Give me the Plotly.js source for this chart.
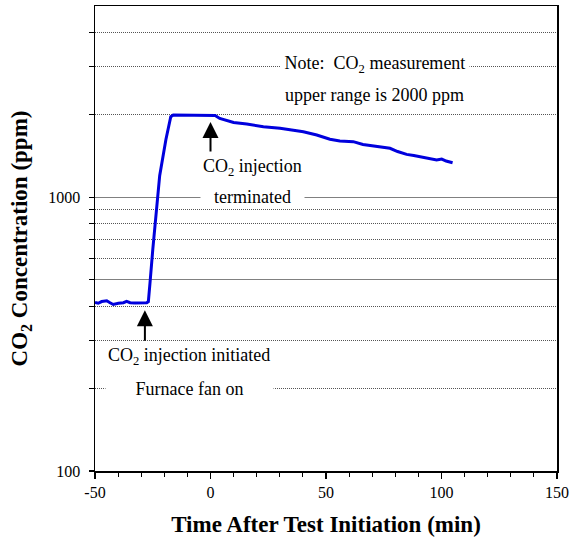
<!DOCTYPE html>
<html>
<head>
<meta charset="utf-8">
<script src="https://cdn.plot.ly/plotly-3.0.1.min.js"></script>
<style>html,body{margin:0;padding:0;background:#fff;}#chart{width:571px;height:542px;}</style>
</head>
<body>
<div id="chart"></div>
<script>
// Time after test initiation (min)
const timeMin = [-50, -48.6, -47.1, -44.9, -43.5, -42.1, -39.9, -37.7, -36.3, -34.8, -32.7, -30.5, -27.6, -26.9,
  -26.5, -26.2, -25.0, -24.0, -22.0, -19.3, -17.2, -16.1, -10, -5, 0, 2, 4, 7, 10, 15.7, 22.9, 30.1, 40.2, 46,
  51.7, 56, 61.8, 66, 71.9, 77.7, 81, 84.9, 88, 92.1, 95, 97.9, 100.1, 102, 104.8];
// CO2 concentration (ppm)
const co2ppm = [413, 410, 416, 419, 412, 406, 410, 412, 417, 412, 411, 412, 412, 416,
  447, 486, 642, 803, 1200, 1627, 1970, 2000, 2000, 2000, 2000, 1990, 1942, 1905, 1876, 1853, 1811, 1787, 1737, 1689,
  1630, 1606, 1597, 1559, 1531, 1510, 1470, 1435, 1421, 1400, 1386, 1369, 1380, 1357, 1337];

const xTickVals = [-50, 0, 50, 100, 150];
const xTickText = ['-50', '0', '50', '100', '150'];
const yTickVals = [100, 500, 1000];
const yTickText = ['100', '', '1000'];
const yMinorVals = [200, 300, 400, 600, 700, 800, 900, 2000, 3000, 4000];

const serif = 'Liberation Serif, Times New Roman, serif';

const trace = {
  x: timeMin, y: co2ppm, type: 'scatter', mode: 'lines',
  line: {color: '#0000dd', width: 3}, hoverinfo: 'skip', showlegend: false
};

const annFont = {family: serif, size: 18, color: '#000'};
const annotations = [
  {x: 71.2, y: Math.log10(3000), text: 'Note:  CO<sub>2</sub> measurement', showarrow: false,
   bgcolor: '#fff', width: 186, borderpad: 1, font: annFont, yshift: 2},
  {x: 71.2, y: Math.log10(2366), text: 'upper range is 2000 ppm', showarrow: false, font: annFont},
  {x: 18, y: Math.log10(1280), text: 'CO<sub>2</sub> injection', showarrow: false, font: annFont},
  {x: 18.2, y: Math.log10(1000), text: 'terminated', showarrow: false, bgcolor: '#fff', width: 101, borderpad: 1, font: annFont},
  {x: -9.1, y: Math.log10(261), text: 'CO<sub>2</sub> injection initiated', showarrow: false, font: annFont},
  {x: -9.1, y: Math.log10(200), text: 'Furnace fan on', showarrow: false, bgcolor: '#fff', width: 165, borderpad: 1, font: annFont},
  {x: 0, y: Math.log10(1885), ax: 0, ay: 31, text: '', showarrow: true, arrowhead: 2, arrowsize: 1.6, arrowwidth: 2, arrowcolor: '#000', standoff: 0},
  {x: -28.4, y: Math.log10(387), ax: 0, ay: 32, text: '', showarrow: true, arrowhead: 2, arrowsize: 1.6, arrowwidth: 2, arrowcolor: '#000', standoff: 0}
];

const layout = {
  width: 571, height: 542,
  margin: {l: 95, r: 14, t: 6, b: 71},
  paper_bgcolor: '#fff', plot_bgcolor: '#fff',
  font: {family: serif, size: 16, color: '#000'},
  showlegend: false,
  xaxis: {
    range: [-50, 150], tickvals: xTickVals, ticktext: xTickText, ticks: 'outside', ticklen: 6, tickwidth: 1.2, tickcolor: '#000',
    showgrid: false, zeroline: false, showline: true, linecolor: '#000', linewidth: 1.5, mirror: true,
    tickfont: {family: serif, size: 16},
    minor: {dtick: 10, ticks: 'outside', ticklen: 4, tickwidth: 1, tickcolor: '#000', showgrid: false},
    title: {text: 'Time After Test Initiation (min)', font: {family: serif, size: 23, weight: 'bold'}, standoff: 16}
  },
  yaxis: {
    type: 'log', range: [2, Math.log10(5000)], tickvals: yTickVals, ticktext: yTickText,
    ticks: 'outside', ticklen: 5, tickwidth: 1.2, tickcolor: '#000', ticklabelstandoff: 5,
    showgrid: true, gridcolor: '#808080', gridwidth: 1.5,
    zeroline: false, showline: true, linecolor: '#000', linewidth: 1.5, mirror: true,
    tickfont: {family: serif, size: 16},
    minor: {tickvals: yMinorVals, ticks: 'outside', ticklen: 5, tickwidth: 1, tickcolor: '#000',
            showgrid: true, gridcolor: '#555', gridwidth: 1, griddash: '1px,1px'},
    title: {text: 'CO<sub>2</sub> Concentration (ppm)', font: {family: serif, size: 23, weight: 'bold'}, standoff: 14}
  },
  annotations: annotations
};

Plotly.newPlot('chart', [trace], layout, {staticPlot: true, displayModeBar: false});
</script>
</body>
</html>
